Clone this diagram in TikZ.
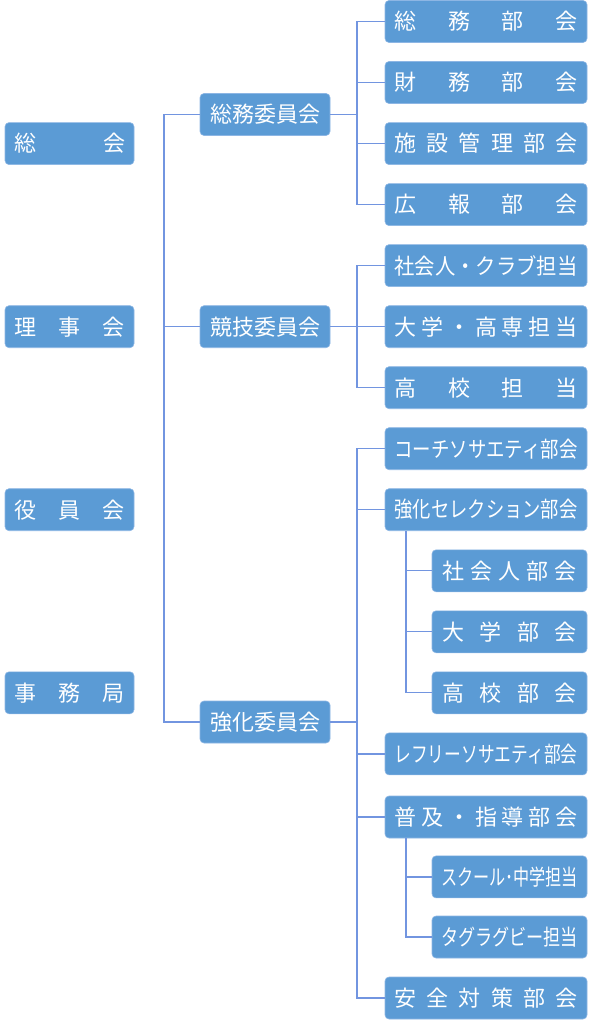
\documentclass[tikz,border=0pt]{standalone}
\usepackage{fontspec}
\usepackage{graphicx}
\newfontfamily\jp{Noto Sans CJK JP}
\definecolor{boxblue}{HTML}{5B9BD5}
\definecolor{boxedge}{HTML}{8DB6E4}
\definecolor{linkblue}{HTML}{7295E0}
\newcommand\dist[2]{\makebox[#1][s]{#2}}
\newcommand\fit[2]{\resizebox{#1}{\height}{#2}}
\begin{document}
\begin{tikzpicture}[x=1pt,y=-1pt,
  box/.style={rectangle, rounded corners=4pt, fill=boxblue, draw=boxedge, line width=0.6pt,
    minimum height=42pt, inner sep=0pt, text=white, font=\jp\fontsize{22}{24}\selectfont},
  lbox/.style={box, minimum width=129pt},
  mbox/.style={box, minimum width=130pt},
  rbox/.style={box, minimum width=202pt},
  sbox/.style={box, minimum width=155pt},
  conn/.style={draw=linkblue, line width=1.2pt}]
\useasboundingbox (0,0) rectangle (591,1024);
% left column
\node[lbox] (sokai) at (69.5,143.6) {\dist{111pt}{総\hfill 会}};
\node[lbox] (rijikai) at (69.5,326.7) {\dist{111pt}{理\hfill 事\hfill 会}};
\node[lbox] (yakuin) at (69.5,509.7) {\dist{111pt}{役\hfill 員\hfill 会}};
\node[lbox] (jimu) at (69.5,692.8) {\dist{111pt}{事\hfill 務\hfill 局}};
% middle column
\node[mbox] (somu) at (265,114.5) {総務委員会};
\node[mbox] (kyogi) at (265,326.7) {競技委員会};
\node[mbox] (kyoka) at (265,722) {強化委員会};
% right column
\node[rbox] (b0) at (486,21.5) {\dist{183pt}{総\hfill 務\hfill 部\hfill 会}};
\node[rbox] (b1) at (486,82.5) {\dist{183pt}{財\hfill 務\hfill 部\hfill 会}};
\node[rbox] (b2) at (486,143.6) {\dist{183pt}{施\hfill 設\hfill 管\hfill 理\hfill 部\hfill 会}};
\node[rbox] (b3) at (486,204.6) {\dist{183pt}{広\hfill 報\hfill 部\hfill 会}};
\node[rbox] (b4) at (486,265.6) {\fit{183pt}{社会人・クラブ担当}};
\node[rbox] (b5) at (486,326.7) {\dist{183pt}{大\hfill 学\hfill ・\hfill 高\hfill 専\hfill 担\hfill 当}};
\node[rbox] (b6) at (486,387.7) {\dist{183pt}{高\hfill 校\hfill 担\hfill 当}};
\node[rbox] (b7) at (486,448.7) {\fit{183pt}{コーチソサエティ部会}};
\node[rbox] (b8) at (486,509.7) {\fit{183pt}{強化セレクション部会}};
\node[sbox] (b9) at (509.5,570.8) {\dist{135pt}{社\hfill 会\hfill 人\hfill 部\hfill 会}};
\node[sbox] (b10) at (509.5,631.8) {\dist{135pt}{大\hfill 学\hfill 部\hfill 会}};
\node[sbox] (b11) at (509.5,692.8) {\dist{135pt}{高\hfill 校\hfill 部\hfill 会}};
\node[rbox] (b12) at (486,753.9) {\fit{183pt}{レフリーソサエティ部会}};
\node[rbox] (b13) at (486,817) {\dist{183pt}{普\hfill 及\hfill ・\hfill 指\hfill 導\hfill 部\hfill 会}};
\node[sbox] (b14) at (509.5,876.9) {\fit{137pt}{スクール･中学担当}};
\node[sbox] (b15) at (509.5,937.0) {\fit{137pt}{タグラグビー担当}};
\node[rbox] (b16) at (486,998) {\dist{183pt}{安\hfill 全\hfill 対\hfill 策\hfill 部\hfill 会}};
% trunk positions
\coordinate (tx) at (164,0);
\coordinate (rx) at (357,0);
\coordinate (sx) at (406,0);
% left trunk
\draw[conn] (somu.west) -- (somu.west -| tx) |- (kyoka.west);
\draw[conn] (kyogi.west) -- (kyogi.west -| tx);
% 総務委員会 group
\draw[conn] (somu.east) -- (somu.east -| rx);
\draw[conn] (b0.west) -- (b0.west -| rx) |- (b3.west);
\draw[conn] (b1.west) -- (b1.west -| rx);
\draw[conn] (b2.west) -- (b2.west -| rx);
% 競技委員会 group
\draw[conn] (kyogi.east) -- (kyogi.east -| rx);
\draw[conn] (b4.west) -- (b4.west -| rx) |- (b6.west);
\draw[conn] (b5.west) -- (b5.west -| rx);
% 強化委員会 group
\draw[conn] (kyoka.east) -- (kyoka.east -| rx);
\draw[conn] (b7.west) -- (b7.west -| rx) |- (b16.west);
\draw[conn] (b8.west) -- (b8.west -| rx);
\draw[conn] (b12.west) -- (b12.west -| rx);
\draw[conn] (b13.west) -- (b13.west -| rx);
% sub groups
\draw[conn] (b8.south -| sx) |- (b11.west);
\draw[conn] (b9.west) -- (b9.west -| sx);
\draw[conn] (b10.west) -- (b10.west -| sx);
\draw[conn] (b13.south -| sx) |- (b15.west);
\draw[conn] (b14.west) -- (b14.west -| sx);
\end{tikzpicture}
\end{document}
